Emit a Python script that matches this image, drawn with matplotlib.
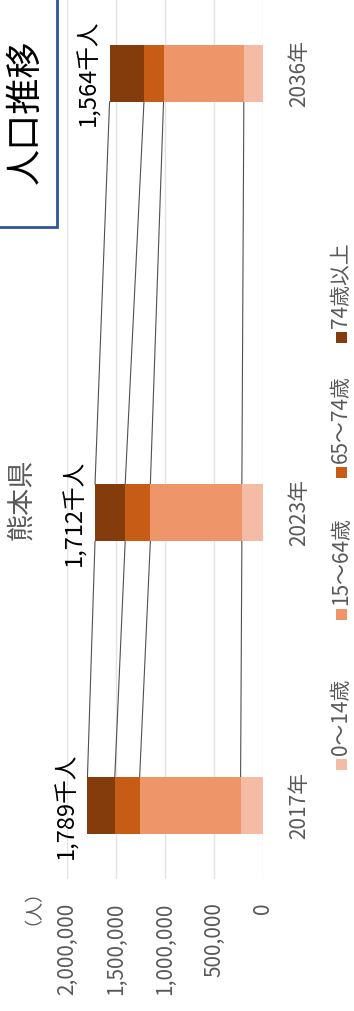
import matplotlib as mpl
mpl.use("Agg")
import matplotlib.pyplot as plt
from matplotlib.patches import Rectangle

plt.rcParams['font.family'] = ['Noto Sans CJK JP', 'DejaVu Sans']

# data (people)
years = ['2017年', '2023年', '2036年']
slots = [0, 2, 5]            # category slots on the axis (6 slots, some empty)
age_groups = ['0～14歳', '15～64歳', '65～74歳', '74歳以上']
pop_0_14 = [231000, 218000, 198000]
pop_15_64 = [1027000, 931000, 817000]
pop_65_74 = [253000, 256000, 199000]
pop_75_over = [278000, 307000, 350000]
series = [pop_0_14, pop_15_64, pop_65_74, pop_75_over]
colors = ['#F4BBA5', '#EE956A', '#C65C15', '#843C0C']
xticks = [0, 500000, 1000000, 1500000, 2000000]

W, H = 354, 1011
def fx(px):
    return px / W
def fy(py):
    return 1 - py / H

gray = '#595959'
fig = plt.figure(figsize=(W / 100, H / 100), dpi=100)
ax = fig.add_axes([fx(66.7), fy(879), fx(263.3) - fx(66.7), fy(0) - fy(879)])

bar_h = 0.39
left = [0, 0, 0]
bounds = []
for vals, c, name in zip(series, colors, age_groups):
    ax.barh(slots, vals, left=left, height=bar_h, color=c, zorder=3, label=name)
    left = [l + v for l, v in zip(left, vals)]
    bounds.append(left)

# series lines between the bars
for cum in bounds:
    for i in range(len(slots) - 1):
        ax.plot([cum[i], cum[i + 1]], [slots[i] + bar_h / 2, slots[i + 1] - bar_h / 2],
                color='#505050', lw=0.8, zorder=2)

# total labels
for tot, s in zip(left, slots):
    ax.annotate(f"{tot // 1000:,}千人", xy=(tot, s), xytext=(-9, 0),
                textcoords='offset pixels', rotation=90, ha='right', va='center',
                fontsize=17, color='black')

ax.set_xlim(2000000, 0)
ax.set_ylim(-0.5, 5.5)
ax.set_xticks(xticks, [f"{t:,}" for t in xticks], rotation=90, color=gray, fontsize=15)
ax.tick_params(axis='x', length=0, pad=17)
ax.yaxis.tick_right()
ax.set_yticks(slots, years, rotation=90, va='center', color=gray, fontsize=15)
ax.tick_params(axis='y', length=0, pad=18)
ax.grid(axis='x', color='#E3E3E3', lw=1)
ax.set_axisbelow(True)
for sp in ax.spines.values():
    sp.set_visible(False)

fig.text(fx(24), fy(898), '（人）', rotation=90, ha='center', va='center',
         color=gray, fontsize=13)
fig.text(fx(22), fy(499), '熊本県', rotation=90, ha='center', va='center',
         color=gray, fontsize=19.5)

# title box
fig.add_artist(Rectangle((fx(-5), fy(227)), fx(62), 232 / H, transform=fig.transFigure,
                         facecolor='white', edgecolor='#2F5597', lw=2))
fig.text(fx(26), fy(112), '人口推移', rotation=90, ha='center', va='center',
         color='black', fontsize=26)

# legend, drawn by hand (rotated)
sq_y = [764, 614, 472, 337]
for name, c, y in zip(age_groups, colors, sq_y):
    fig.add_artist(Rectangle((fx(335.5), fy(y + 5.5)), fx(11), 11 / H,
                             transform=fig.transFigure, facecolor=c, edgecolor='none'))
    fig.text(fx(341), fy(y - 9), name, rotation=90, ha='center', va='bottom',
             color=gray, fontsize=15)

fig.savefig('out.png', dpi=100)
